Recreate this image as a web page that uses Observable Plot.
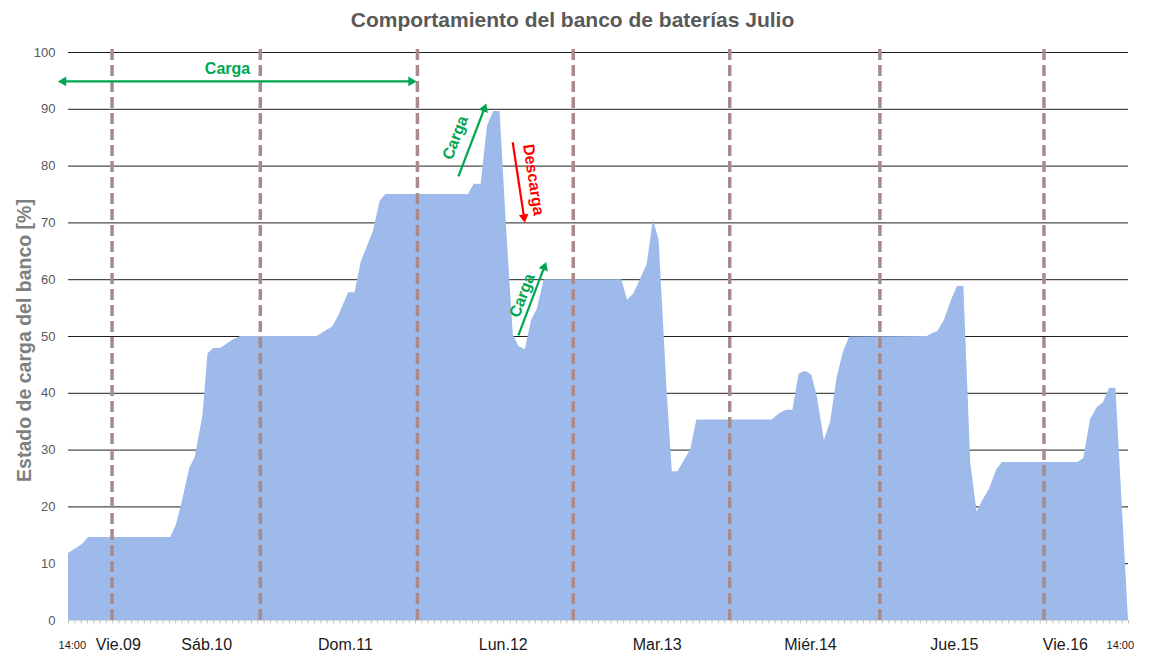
<!DOCTYPE html>
<html><head><meta charset="utf-8">
<script src="https://cdn.jsdelivr.net/npm/d3@7"></script>
<script src="https://cdn.jsdelivr.net/npm/@observablehq/plot@0.6"></script>
<style>body{margin:0;background:#fff;} #chart svg{display:block;}</style>
</head><body><div id="chart"></div>
<script>
// ---- data (hours from 14:00 Vie.09, state of charge %) ----
const hours = [0, 2.2, 3.2, 16.2, 17.1, 18, 19.2, 20.1, 21.3, 22.1, 23, 24.1, 26.1, 27.3, 39.4, 41.9, 42.8, 44.4, 45.4, 46.4, 48.3, 49.4, 50.3, 63.4, 64.3, 65.4, 66.4, 67.4, 68.4, 69.4, 70.5, 71.4, 72.4, 73.4, 74.3, 75.4, 87.7, 88.6, 89.6, 91.7, 92.7, 93.6, 94.9, 95.7, 96.6, 98.6, 99.6, 111.5, 112.8, 113.8, 114.8, 115.8, 116.8, 117.8, 118.7, 119.8, 120.8, 121.8, 122.8, 123.8, 136.1, 136.9, 137.8, 138.8, 140, 140.9, 141.9, 143, 144, 144.9, 146, 147.1, 148, 160, 160.9, 162, 163, 164, 165, 166, 168];
const soc = [11.8, 13.4, 14.6, 14.6, 16.8, 20.7, 26.7, 28.8, 36, 46.9, 47.9, 47.9, 49.4, 50, 50, 51.7, 53.5, 57.7, 57.7, 63.1, 68.4, 73.8, 75, 75, 76.8, 76.8, 87, 89.6, 89.6, 69.7, 50.2, 48.2, 47.7, 52.8, 54.8, 60, 60, 56.4, 57.5, 62.6, 70.5, 67, 39.9, 26.2, 26.2, 30, 35.3, 35.3, 36.5, 37, 37, 43.4, 43.9, 43.2, 39.3, 31.7, 35, 42.6, 47.2, 49.9, 50, 50.5, 50.9, 52.8, 56.5, 58.8, 58.8, 27.7, 19.1, 21.1, 23.2, 26.5, 27.8, 27.8, 28.5, 35.4, 37.4, 38.3, 40.9, 40.9, 0];
const yTicks = [0, 10, 20, 30, 40, 50, 60, 70, 80, 90, 100];
const dayLines = [6.9, 30.4, 55.3, 80.0, 104.8, 128.6, 154.6];
const dayLabels = ["Vie.09", "Sáb.10", "Dom.11", "Lun.12", "Mar.13", "Miér.14", "Jue.15", "Vie.16"];
const dayLabelHours = [7.9, 21.9, 43.9, 68.9, 93.3, 117.6, 140.4, 158.0];
const edgeLabels = ["14:00", "14:00"];
const edgeLabelHours = [0.6, 166.7];
const hourTicks = d3.range(0, 169);
// annotations
const arrowNames = ["Carga", "Carga", "Descarga", "Carga"];
const arrowKind = ["carga", "carga", "descarga", "carga"];
const arrowX1 = [-0.8, 61.8, 70.4, 71.3];
const arrowY1 = [94.9, 78.2, 84.2, 50.2];
const arrowX2 = [54.3, 65.9, 72.2, 75.4];
const arrowY2 = [94.9, 90.1, 71.0, 62.2];
const arrowDouble = [true, false, false, false];
const labelX = [25.2, 61.3, 73.7, 71.9];
const labelY = [97.1, 85.0, 77.6, 57.2];

const W = 1150, H = 657, ML = 68, MR = 22, MT = 52, MB = 37;
const kx = (W - ML - MR) / 168, ky = (H - MT - MB) / 100;
const colors = {carga: "#00a651", descarga: "#ff0000"};
const font = "'Liberation Sans', Arial, sans-serif";

const data = hours.map((h, i) => ({h, v: soc[i]}));

const annotationMarks = [];
arrowNames.forEach((name, i) => {
  const c = colors[arrowKind[i]];
  const dxp = (arrowX2[i] - arrowX1[i]) * kx, dyp = (arrowY2[i] - arrowY1[i]) * ky;
  const headRot = Math.atan2(dxp, dyp) * 180 / Math.PI;
  const textRot = arrowDouble[i] ? 0 : Math.atan2(-dyp, dxp) * 180 / Math.PI;
  annotationMarks.push(
    Plot.link([0], {x1: () => arrowX1[i], y1: () => arrowY1[i], x2: () => arrowX2[i], y2: () => arrowY2[i], stroke: c, strokeWidth: 2.2})
  );
  const heads = [{x: arrowX2[i], y: arrowY2[i], r: headRot}];
  if (arrowDouble[i]) heads.push({x: arrowX1[i], y: arrowY1[i], r: headRot + 180});
  annotationMarks.push(Plot.dot(heads, {x: "x", y: "y", rotate: "r", symbol: "triangle", r: 3.6, fill: c, stroke: null}));
  annotationMarks.push(Plot.text([name], {x: () => labelX[i], y: () => labelY[i], text: d => d, rotate: textRot, fill: c, fontSize: 16, fontWeight: "bold", fontFamily: font, textAnchor: "middle", lineAnchor: "middle"}));
});

const chart = Plot.plot({
  width: W, height: H,
  marginLeft: ML, marginRight: MR, marginTop: MT, marginBottom: MB,
  style: {fontFamily: font, background: "#fff", overflow: "visible"},
  x: {domain: [0, 168], axis: null},
  y: {domain: [0, 100], axis: null},
  marks: [
    Plot.ruleY(yTicks.filter(d => d > 0), {stroke: "#1f1f1f", strokeWidth: 1}),
    Plot.areaY(data, {x: "h", y: "v", fill: "#9dbaea", curve: "linear"}),
    Plot.ruleY([0], {stroke: "#d9d9d9"}),
    Plot.ruleX(hourTicks, {x: d => d, y1: 0, y2: -0.6, stroke: "#bfbfbf", strokeWidth: 1}),
    Plot.ruleX(dayLines, {x: d => d, y1: 0, y2: 101.3, stroke: "#a98b8b", strokeWidth: 3.5, strokeDasharray: "11,5"}),
    Plot.axisY({ticks: yTicks, tickSize: 0, tickPadding: 13, fontSize: 13, color: "#595959", tickFormat: d => String(d)}),
    Plot.text(dayLabels, {x: (d, i) => dayLabelHours[i], y: 0, dy: 24, text: d => d, fontSize: 16, fill: "#1a1a1a", lineAnchor: "middle"}),
    Plot.text(edgeLabels, {x: (d, i) => edgeLabelHours[i], y: 0, dy: 25, text: d => d, fontSize: 11, fill: "#1a1a1a", lineAnchor: "middle"}),
    Plot.text(["Estado de carga del banco [%]"], {frameAnchor: "left", dx: -44, dy: 4, rotate: -90, text: d => d, fontSize: 19.5, fontWeight: "bold", fill: "#7f7f7f", textAnchor: "middle", lineAnchor: "middle"}),
    Plot.text(["Comportamiento del banco de baterías Julio"], {frameAnchor: "top", dx: -26, dy: -32, text: d => d, fontSize: 21, fontWeight: "bold", fill: "#595959", textAnchor: "middle", lineAnchor: "middle"}),
    ...annotationMarks
  ]
});
document.getElementById("chart").appendChild(chart);
</script>
</body></html>
